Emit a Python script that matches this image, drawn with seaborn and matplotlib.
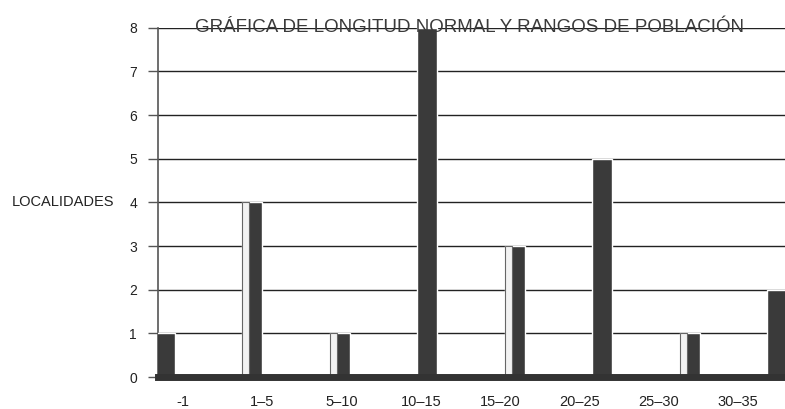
import matplotlib
matplotlib.use("Agg")
import matplotlib.pyplot as plt
import seaborn as sns
import pandas as pd

# Datos
rangos = ["-1", "1\u20135", "5\u201310", "10\u201315", "15\u201320", "20\u201325", "25\u201330", "30\u201335"]
localidades = [1, 4, 1, 8, 3, 5, 1, 2]
# barras con cara clara (el resto son oscuras)
cara_clara = [False, True, True, False, True, False, True, False]

sns.set_theme(style="white")
plt.rcParams["font.family"] = ["Liberation Sans", "DejaVu Sans"]

df = pd.DataFrame({"rango": rangos, "localidades": localidades})

fig = plt.figure(figsize=(7.85, 4.09), dpi=100)
ax = fig.add_axes([0.201, 0.078, 0.799, 0.854])

# cuerpo oscuro de todas las barras (lado en sombra)
sns.barplot(data=df, x="rango", y="localidades", color="#3a3a3a",
            width=0.23, saturation=1, ax=ax, zorder=3)

# cara frontal clara en las barras que la tienen
df_clara = df.copy()
df_clara["localidades"] = [v if c else 0 for v, c in zip(localidades, cara_clara)]
n_antes = len(ax.patches)
sns.barplot(data=df_clara, x="rango", y="localidades", color="#f2f2f2",
            width=0.08, saturation=1, ax=ax, zorder=4)
for p in ax.patches[n_antes:]:
    p.set_x(p.get_x() - 0.075)
    p.set_edgecolor("#666666")
    p.set_linewidth(0.8)

ax.set_ylim(0, 8)
ax.set_xlim(-0.08, 7.09)
ax.set_yticks(range(0, 9))
ax.yaxis.grid(True, color="#222222", linewidth=1.0)
ax.set_axisbelow(True)
ax.set_xlabel("")
ax.set_ylabel("LOCALIDADES", rotation=0, fontsize=10.5, color="#222222",
              ha="right", va="center", labelpad=11)

# etiquetas de categoria (en perspectiva, con otro espaciado)
ax2 = ax.twiny()
ax2.set_xlim(-0.315, 7.59)
ax2.set_xticks(range(len(rangos)))
ax2.set_xticklabels(rangos)
ax2.xaxis.set_ticks_position("bottom")
ax2.tick_params(axis="x", bottom=False, top=False, labelsize=10.5,
                labelcolor="#222222", pad=7)
for s in ax2.spines.values():
    s.set_visible(False)

for s in ["top", "right"]:
    ax.spines[s].set_visible(False)
ax.spines["left"].set_color("#555555")
ax.spines["left"].set_linewidth(1.2)
ax.spines["bottom"].set_color("#333333")
ax.spines["bottom"].set_linewidth(5)
ax.spines["bottom"].set_zorder(5)
ax.tick_params(axis="y", left=True, length=7, width=1, color="#555555",
               labelsize=10, labelcolor="#222222", pad=8)
ax.tick_params(axis="x", bottom=False, top=False,
               labelbottom=False, labeltop=False)

ax.text(0.497, 1.0, "GRÁFICA DE LONGITUD NORMAL Y RANGOS DE POBLACIÓN",
        transform=ax.transAxes, ha="center", va="center",
        fontsize=13.5, color="#3a3a3a", zorder=6)

fig.savefig("out.png", dpi=100, facecolor="white")
